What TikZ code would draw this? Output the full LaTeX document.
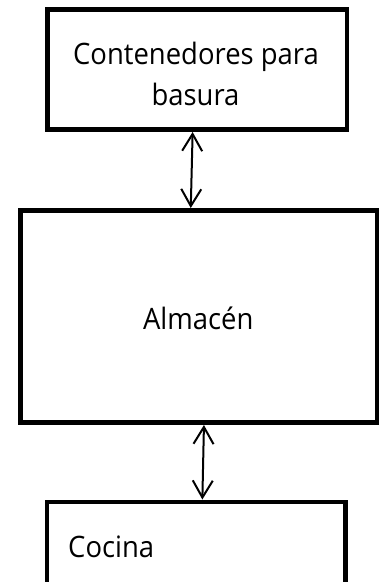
\documentclass[tikz,border=0pt]{standalone}
\usepackage{fontspec}
\setmainfont[FakeStretch=0.93]{Open Sans}
\usetikzlibrary{arrows.meta}
\begin{document}
\begin{tikzpicture}[x=1pt,y=-1pt,
  boxnode/.style={draw=black,line width=4.8pt,fill=white,inner sep=0pt,outer sep=0pt},
  lbl/.style={anchor=base,inner sep=0pt,font=\fontsize{29.5}{36}\selectfont},
  conn/.style={line width=2pt,{Straight Barb[length=17pt,width=20pt,line width=2pt]}-{Straight Barb[length=17pt,width=20pt,line width=2pt]},shorten <=2.5pt,shorten >=2.5pt}]
\useasboundingbox (0,0) rectangle (380,582);
\clip (0,0) rectangle (380,582);
\fill[white] (0,0) rectangle (380,582);
\node[boxnode,minimum width=299.5pt,minimum height=120pt] (cont) at (197.25,69.5) {};
\node[boxnode,minimum width=356.5pt,minimum height=212pt] (alm) at (198.75,316.5) {};
\node[boxnode,minimum width=298.5pt,minimum height=160pt] (coc) at (196.25,582) {};
\node[lbl] (t1) at (196,64) {Contenedores para};
\node[lbl] (t2) at (195.5,105) {basura};
\node[lbl] (t3) at (198.3,329) {Almacén};
\node[lbl,anchor=base west] (t4) at (68,557) {Cocina};
\coordinate (x1) at (192.7,0);
\coordinate (x2) at (190.7,0);
\coordinate (x3) at (204,0);
\coordinate (x4) at (202.3,0);
\draw[conn] (cont.south -| x1) -- (alm.north -| x2);
\draw[conn] (alm.south -| x3) -- (coc.north -| x4);
\end{tikzpicture}
\end{document}
